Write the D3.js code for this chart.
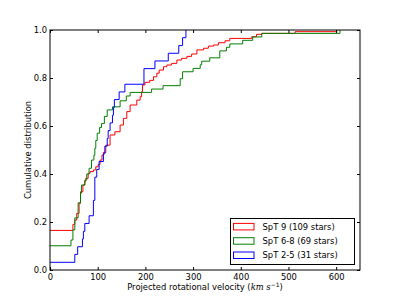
<!DOCTYPE html>
<html>
<head>
<meta charset="utf-8">
<script src="https://cdn.jsdelivr.net/npm/d3@7"></script>
<style>
body { margin: 0; background: #fff; }
text { font-family: "DejaVu Sans", sans-serif; font-size: 8.4px; fill: #000; }
</style>
</head>
<body>
<svg id="chart" width="400" height="300"></svg>
<script>
var width = 400, height = 300
var margin = {left: 50, right: 40, top: 30, bottom: 30}

var xTicks = [0, 100, 200, 300, 400, 500, 600]
var yTicks = [0, 0.2, 0.4, 0.6, 0.8, 1.0]

// SpT 9 - velocity where the step happens, cumulative fraction after it
var redV = [0, 48, 52, 56, 61, 64, 69, 73, 75, 80, 84, 91, 96, 101, 105, 109, 112, 117, 126, 136, 147, 154, 161, 168, 182, 189, 192, 194, 199, 209, 217, 224, 229, 238, 245, 255, 266, 276, 287, 297, 308, 322, 332, 343, 353, 367, 377, 423, 433, 444, 514, 601]
var redF = [0.165, 0.19, 0.208, 0.236, 0.278, 0.326, 0.354, 0.37, 0.382, 0.403, 0.41, 0.417, 0.43, 0.44, 0.458, 0.479, 0.49, 0.52, 0.5625, 0.576, 0.604, 0.632, 0.66, 0.6875, 0.708, 0.722, 0.743, 0.771, 0.782, 0.79, 0.805, 0.82, 0.833, 0.847, 0.854, 0.861, 0.875, 0.882, 0.89, 0.9, 0.917, 0.924, 0.933, 0.9375, 0.947, 0.955, 0.965, 0.972, 0.982, 0.986, 0.993, 1.0]

// SpT 6-8
var greenV = [0, 44, 48, 52, 59, 64, 66, 73, 77, 82, 87, 92, 94, 96, 99, 104, 108, 114, 120, 131, 147, 160, 168, 213, 237, 273, 278, 300, 315, 318, 335, 356, 370, 377, 404, 425, 444, 608]
var greenF = [0.101, 0.125, 0.167, 0.217, 0.28, 0.32, 0.354, 0.375, 0.40, 0.424, 0.458, 0.478, 0.507, 0.54, 0.57, 0.594, 0.61, 0.64, 0.667, 0.68, 0.705, 0.725, 0.74, 0.754, 0.768, 0.797, 0.826, 0.84, 0.855, 0.87, 0.884, 0.913, 0.928, 0.942, 0.957, 0.971, 0.986, 1.0]

// SpT 2-5
var blueV = [0, 52, 58, 68, 70, 73, 82, 91, 94, 98, 103, 112, 115, 120, 122, 126, 131, 133, 135, 145, 157, 197, 220, 248, 270, 278, 285]
var blueF = [0.032, 0.065, 0.097, 0.129, 0.161, 0.194, 0.226, 0.290, 0.387, 0.419, 0.452, 0.484, 0.516, 0.548, 0.581, 0.613, 0.645, 0.677, 0.710, 0.742, 0.774, 0.839, 0.871, 0.903, 0.935, 0.968, 1.0]

var labels = ["SpT 9 (109 stars)", "SpT 6-8 (69 stars)", "SpT 2-5 (31 stars)"]
var colors = ["#ff0000", "#008000", "#0000ff"]

var series = [
    d3.zip(redV, redF),
    d3.zip(greenV, greenF),
    d3.zip(blueV, blueF)
]

var svg = d3.select("#chart")

var x = d3.scaleLinear().domain([0, 650]).range([margin.left, width - margin.right])
var y = d3.scaleLinear().domain([0, 1]).range([height - margin.bottom, margin.top])

var line = d3.line()
    .x(function(d){ return x(d[0]) })
    .y(function(d){ return y(d[1]) })
    .curve(d3.curveStepAfter)

// clip to the axes box
svg.append("clipPath").attr("id", "clip")
  .append("rect")
    .attr("x", x(0)).attr("y", y(1) - 1)
    .attr("width", x(650) - x(0)).attr("height", y(0) - y(1) + 2)

svg.selectAll("path.cdf")
    .data(series)
    .enter().append("path")
    .attr("class", "cdf")
    .attr("clip-path", "url(#clip)")
    .attr("d", line)
    .attr("fill", "none")
    .attr("stroke", function(d, i){ return colors[i] })
    .attr("stroke-width", 1)

// axes, ticks point inside, on all four sides
var fmt = d3.format(".1f")
var gx = svg.append("g")
    .attr("transform", "translate(0," + y(0) + ")")
    .call(d3.axisBottom(x).tickValues(xTicks).tickSizeInner(-3).tickSizeOuter(0).tickPadding(4))
var gxTop = svg.append("g")
    .attr("transform", "translate(0," + y(1) + ")")
    .call(d3.axisTop(x).tickValues(xTicks).tickSizeInner(-3).tickSizeOuter(0).tickFormat(""))
var gy = svg.append("g")
    .attr("transform", "translate(" + x(0) + ",0)")
    .call(d3.axisLeft(y).tickValues(yTicks).tickFormat(fmt).tickSizeInner(-3).tickSizeOuter(0).tickPadding(3))
var gyRight = svg.append("g")
    .attr("transform", "translate(" + x(650) + ",0)")
    .call(d3.axisRight(y).tickValues(yTicks).tickSizeInner(-3).tickSizeOuter(0).tickFormat(""))

svg.selectAll(".domain").remove()
svg.selectAll(".tick line").attr("stroke", "#000")
svg.selectAll(".tick text").style("font-family", "DejaVu Sans").style("font-size", "8.4px")

svg.append("rect")
    .attr("x", x(0)).attr("y", y(1))
    .attr("width", x(650) - x(0)).attr("height", y(0) - y(1))
    .attr("fill", "none")
    .attr("stroke", "#000")
    .attr("stroke-width", 1)

// axis labels
var xl = svg.append("text")
    .attr("x", (x(0) + x(650)) / 2)
    .attr("y", 290)
    .attr("text-anchor", "middle")
xl.append("tspan").text("Projected rotational velocity (")
xl.append("tspan").style("font-style", "italic").style("font-family", "DejaVu Serif").text("km s")
xl.append("tspan").attr("dy", -3).style("font-size", "6px").text("\u22121")
xl.append("tspan").attr("dy", 3).text(")")

svg.append("text")
    .attr("transform", "translate(31," + (y(0) + y(1)) / 2 + ") rotate(-90)")
    .attr("text-anchor", "middle")
    .text("Cumulative distribution")

// legend
var leg = svg.append("g")
leg.append("rect")
    .attr("x", 230.5).attr("y", 218.5)
    .attr("width", 124).attr("height", 46)
    .attr("fill", "#fff")
    .attr("stroke", "#000")
    .attr("stroke-width", 1)

var rows = leg.selectAll("g.row")
    .data(labels)
    .enter().append("g")
    .attr("class", "row")
    .attr("transform", function(d, i){ return "translate(0," + (226.7 + i * 14.3) + ")" })

rows.append("rect")
    .attr("x", 233.5).attr("y", -3.3)
    .attr("width", 20.5).attr("height", 6.5)
    .attr("fill", "none")
    .attr("stroke", function(d, i){ return colors[i] })
    .attr("stroke-width", 1)

rows.append("text")
    .attr("x", 262.5)
    .attr("y", 3)
    .text(function(d){ return d })
</script>
</body>
</html>
